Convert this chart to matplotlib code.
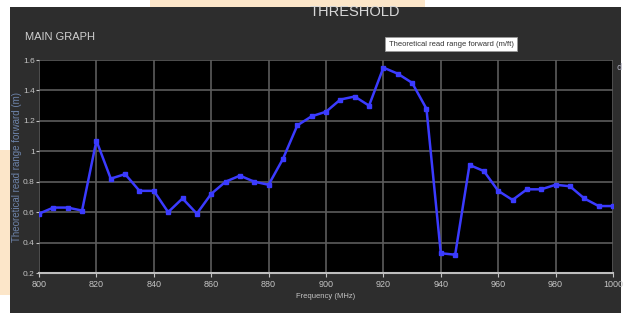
import matplotlib
matplotlib.use("Agg")
import matplotlib.pyplot as plt
from matplotlib.patches import Rectangle

# data
freq = list(range(800, 1001, 5))
read_range = [0.59, 0.63, 0.63, 0.61, 1.07, 0.82, 0.85, 0.74, 0.74, 0.60,
              0.69, 0.59, 0.72, 0.80, 0.84, 0.80, 0.78, 0.95, 1.17, 1.23,
              1.26, 1.34, 1.36, 1.30, 1.55, 1.51, 1.45, 1.28, 0.33, 0.32,
              0.91, 0.87, 0.74, 0.68, 0.75, 0.75, 0.78, 0.77, 0.69, 0.64,
              0.64]
x_ticks = [800, 820, 840, 860, 880, 900, 920, 940, 960, 980, 1000]
y_ticks = [0.2, 0.4, 0.6, 0.8, 1.0, 1.2, 1.4, 1.6]
y_labels = ["0.2", "0.4", "0.6", "0.8", "1", "1.2", "1.4", "1.6"]

W, H = 629, 313
fig = plt.figure(figsize=(W / 100, H / 100), dpi=100, facecolor="white")

panel, txt, grid, blue = "#2d2d2d", "#c4c4c4", "#5c5c5c", "#3b3bff"
font = ["Liberation Sans Narrow", "Liberation Sans", "DejaVu Sans"]

# background layer in pixel coordinates
bg = fig.add_axes([0, 0, 1, 1], zorder=-1)
bg.set_xlim(0, W)
bg.set_ylim(H, 0)
bg.axis("off")
bg.add_patch(Rectangle((150, 0), 275, 7, fc="#fce6c9", ec="none"))
bg.add_patch(Rectangle((0, 150), 10, 145, fc="#fce6c9", ec="none"))
bg.add_patch(Rectangle((10, 7), 611, H - 7, fc=panel, ec="none"))
bg.text(355, 12, "THRESHOLD", color="#d8d8d8", fontsize=10.5, family=font,
        ha="center", va="center")
bg.text(25, 37, "MAIN GRAPH", color="#d0d0d0", fontsize=8, family=font,
        ha="left", va="center")
bg.text(451, 44, "Theoretical read range forward (m/ft)", color="#333333",
        fontsize=5.5, family=font, ha="center", va="center",
        bbox=dict(boxstyle="square,pad=0.5", fc="white", ec="#999999", lw=0.6))
bg.text(619, 68, "d", color="#b0b0c0", fontsize=6, ha="center", va="center")

ax = fig.add_axes([39 / W, 40 / H, 574 / W, 213 / H])
ax.set_facecolor("black")
ax.plot(freq, read_range, color=blue, lw=1.8, marker="s", ms=3, zorder=3)
ax.set_xlim(800, 1000)
ax.set_ylim(0.2, 1.6)
ax.set_xticks(x_ticks)
ax.set_yticks(y_ticks)
ax.set_yticklabels(y_labels)
ax.grid(True, color=grid, lw=1.2)
for s in ax.spines.values():
    s.set_visible(False)
ax.spines["bottom"].set_visible(True)
ax.spines["bottom"].set_color("#bdbdbd")
ax.spines["bottom"].set_linewidth(1.5)
ax.tick_params(colors=txt, labelsize=6.5, length=3, width=0.8, pad=2)
ax.tick_params(axis="y", labelsize=6, length=2, pad=1)
for lab in ax.get_xticklabels() + ax.get_yticklabels():
    lab.set_family(font)

ax.set_xlabel("Frequency (MHz)", color=txt, fontsize=5.5, family=font, labelpad=3)
ax.set_ylabel("Theoretical read range forward (m)", color="#6c82a8", fontsize=7,
              family=font)
ax.yaxis.set_label_coords(-17 / 574, 0.5)

fig.savefig("out.png", dpi=100, facecolor="white")
